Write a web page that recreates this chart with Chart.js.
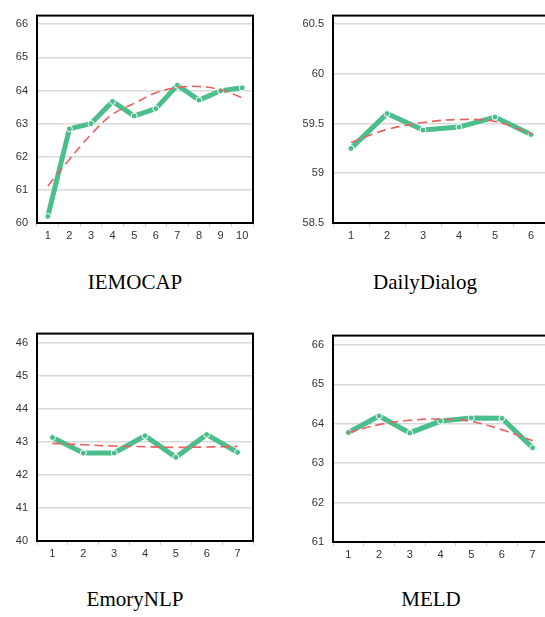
<!DOCTYPE html>
<html>
<head>
<meta charset="utf-8">
<script src="https://cdn.jsdelivr.net/npm/chart.js@4.4.1/dist/chart.umd.min.js"></script>
<style>
    html, body { margin: 0; padding: 0; background: #fff; }
    body { width: 545px; height: 617px; overflow: hidden; position: relative; }
    canvas { position: absolute; }
    .title {
        position: absolute; width: 200px; text-align: center;
        font-family: 'Liberation Serif', 'Times New Roman', serif;
        font-size: 21px; line-height: 21px; color: #000;
    }
</style>
</head>
<body>
<canvas id="c1" width="270" height="250" style="left:0;top:0"></canvas>
<canvas id="c2" width="290" height="250" style="left:270px;top:0"></canvas>
<canvas id="c3" width="270" height="250" style="left:0;top:318px"></canvas>
<canvas id="c4" width="290" height="249" style="left:270px;top:320px"></canvas>
<div class="title" style="left:35px;top:272px">IEMOCAP</div>
<div class="title" style="left:325px;top:272px">DailyDialog</div>
<div class="title" style="left:35px;top:589px">EmoryNLP</div>
<div class="title" style="left:331px;top:589px">MELD</div>
<script>
// ========== DỮ LIỆU ==========
const iemocapX = ['1', '2', '3', '4', '5', '6', '7', '8', '9', '10'];
const iemocapScore = [60.2, 62.84, 63.0, 63.67, 63.23, 63.45, 64.16, 63.71, 63.99, 64.08];
const iemocapTrend = [61.12, 61.92, 62.67, 63.28, 63.61, 63.93, 64.09, 64.12, 64.02, 63.78];

const dailyX = ['1', '2', '3', '4', '5', '6'];
const dailyScore = [59.25, 59.6, 59.435, 59.464, 59.565, 59.39];
const dailyTrend = [59.31, 59.44, 59.51, 59.54, 59.52, 59.4];

const emoryX = ['1', '2', '3', '4', '5', '6', '7'];
const emoryScore = [43.13, 42.66, 42.66, 43.18, 42.53, 43.22, 42.68];
const emoryTrend = [42.95, 42.91, 42.87, 42.85, 42.83, 42.84, 42.86];

const meldX = ['1', '2', '3', '4', '5', '6', '7'];
const meldScore = [63.78, 64.2, 63.77, 64.07, 64.15, 64.14, 63.39];
const meldTrend = [63.78, 63.98, 64.09, 64.12, 64.06, 63.85, 63.57];

const GREEN = 'rgb(76, 190, 140)';
const RED = 'rgb(232, 96, 94)';

// vẽ khung đen quanh vùng biểu đồ
const boxPlugin = {
    id: 'box',
    afterDraw(chart) {
        const { ctx, chartArea: a } = chart;
        ctx.save();
        ctx.strokeStyle = '#000';
        ctx.lineWidth = 2;
        ctx.strokeRect(a.left, a.top, a.right - a.left, a.bottom - a.top);
        ctx.restore();
    }
};

function createPanel(id, labels, score, trend, yMin, yMax, step, axisWidth, padRight) {
    const ctx = document.getElementById(id).getContext('2d');
    return new Chart(ctx, {
        type: 'line',
        data: {
            labels: labels,
            datasets: [
                {
                    data: trend,
                    borderColor: RED,
                    borderWidth: 1.6,
                    borderDash: [9, 5],
                    pointRadius: 0,
                    tension: 0.4,
                    fill: false
                },
                {
                    data: score,
                    borderColor: GREEN,
                    borderWidth: 5,
                    pointRadius: 3,
                    pointBackgroundColor: GREEN,
                    pointBorderColor: '#fff',
                    pointBorderWidth: 1,
                    tension: 0,
                    fill: false
                }
            ]
        },
        options: {
            responsive: false,
            animation: false,
            layout: { padding: { top: 7, right: padRight, left: 0, bottom: 0 } },
            plugins: { legend: { display: false }, tooltip: { enabled: false } },
            scales: {
                x: {
                    offset: true,
                    afterFit: s => { s.height = 27; },
                    border: { display: false },
                    grid: {
                        offset: true,
                        drawOnChartArea: false,
                        drawTicks: true,
                        tickLength: 4,
                        color: '#cfcfcf'
                    },
                    ticks: {
                        padding: 2,
                        color: '#333',
                        font: { family: "'Liberation Sans', Arial, sans-serif", size: 11 },
                        maxRotation: 0
                    }
                },
                y: {
                    min: yMin,
                    max: yMax,
                    afterFit: s => { s.width = axisWidth; },
                    border: { display: false },
                    grid: { drawTicks: false, color: '#d9d9d9', lineWidth: 1.6 },
                    ticks: {
                        stepSize: step,
                        includeBounds: false,
                        padding: 9,
                        color: '#333',
                        font: { family: "'Liberation Sans', Arial, sans-serif", size: 11 },
                        callback: value => String(Number(value.toFixed(1)))
                    }
                }
            }
        },
        plugins: [boxPlugin]
    });
}

createPanel('c1', iemocapX, iemocapScore, iemocapTrend, 60, 66.26, 1, 37, 17);
createPanel('c2', dailyX, dailyScore, dailyTrend, 58.5, 60.585, 0.5, 63, 11);
createPanel('c3', emoryX, emoryScore, emoryTrend, 40, 46.27, 1, 37, 17);
createPanel('c4', meldX, meldScore, meldTrend, 61, 66.24, 1, 63, 12);
</script>
</body>
</html>
